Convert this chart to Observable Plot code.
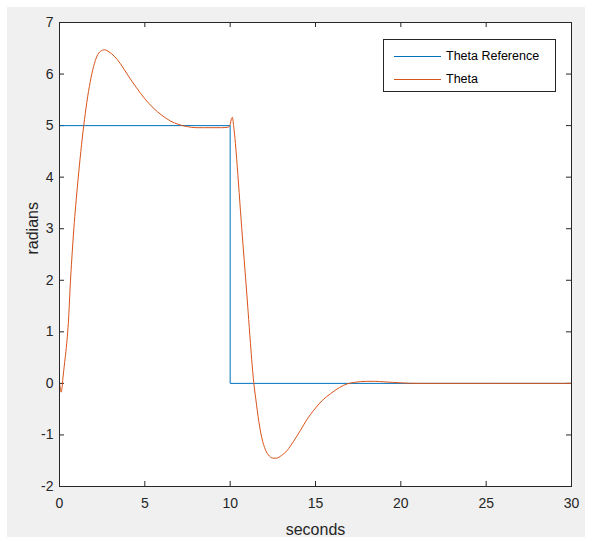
<!DOCTYPE html>
<html><head><meta charset="utf-8">
<script src="https://cdn.jsdelivr.net/npm/d3@7"></script>
<script src="https://cdn.jsdelivr.net/npm/@observablehq/plot@0.6"></script>
<style>
body{margin:0;background:#fff;}
#wrap{position:relative;width:591px;height:541px;}
#bg{position:absolute;left:7px;top:7px;width:578px;height:530px;background:#f0f0f0;}
#chart{position:absolute;left:0;top:0;}
#legend{position:absolute;left:383px;top:39px;width:173px;height:53px;background:#fff;border:1px solid #262626;box-sizing:border-box;font-family:"Liberation Sans",Arial,sans-serif;font-size:12.5px;color:#000;}
.row{position:absolute;left:0;height:16px;}
.sw{position:absolute;left:10px;top:8px;width:47px;height:0;border-top:1px solid;}
.lab{position:absolute;left:62px;top:0;white-space:nowrap;line-height:16px;}
</style></head>
<body>
<div id="wrap"><div id="bg"></div><div id="chart"></div>
<div id="legend">
 <div class="row" style="top:8px"><div class="sw" style="border-color:#0072BD"></div><div class="lab">Theta Reference</div></div>
 <div class="row" style="top:31px"><div class="sw" style="border-color:#D95319"></div><div class="lab">Theta</div></div>
</div></div>
<script>
const xTicks = [0,5,10,15,20,25,30];
const yTicks = [-2,-1,0,1,2,3,4,5,6,7];
const refT = [0,10,10,30];
const refY = [5,5,0,0];
const thetaT = [0,0.05,0.1,0.15,0.2,0.3,0.4,0.48,0.55,0.62,0.7,0.84,0.95,1.1,1.25,1.42,1.6,1.8,2.0,2.2,2.4,2.65,2.9,3.2,3.57,4.0,4.5,5.0,5.5,6.0,6.5,7.0,7.5,8.0,8.5,9.0,9.5,9.9,10.0,10.08,10.13,10.2,10.31,10.45,10.6,10.75,10.9,11.05,11.19,11.38,11.5,11.68,11.85,12.07,12.3,12.5,12.71,13.0,13.34,13.7,14.12,14.5,14.9,15.4,15.88,16.4,16.85,17.3,18.0,18.5,19.0,19.5,20,21,30];
const thetaY = [0,-0.1,-0.17,-0.08,0.1,0.4,0.7,1.0,1.35,1.85,2.3,3.0,3.45,4.0,4.5,5.0,5.45,5.85,6.15,6.35,6.44,6.47,6.43,6.35,6.2,5.98,5.74,5.52,5.34,5.2,5.09,5.02,4.98,4.96,4.96,4.96,4.96,4.97,5.02,5.14,5.16,5.0,4.65,4.05,3.36,2.7,2.06,1.4,0.77,0.02,-0.3,-0.74,-1.05,-1.29,-1.41,-1.45,-1.45,-1.40,-1.30,-1.13,-0.91,-0.7,-0.52,-0.33,-0.2,-0.08,-0.01,0.02,0.04,0.04,0.03,0.02,0.01,0,0];
const theta = thetaT.map((t,i)=>({t, y: thetaY[i]}));
const ref = refT.map((t,i)=>({t, y: refY[i]}));
const axisColor = "#262626";
const innerH = 541-22-55, innerW = 591-59-20;
const fmt = d => String(d);
const chart = Plot.plot({
  width: 591, height: 541,
  marginLeft: 59, marginTop: 22, marginRight: 20, marginBottom: 55,
  x: {domain: [0,30]},
  y: {domain: [-2,7]},
  style: {fontFamily: "'Liberation Sans', Arial, sans-serif", fontSize: "14px", color: axisColor, background: "transparent", overflow: "visible"},
  marks: [
    Plot.frame({fill: "white", stroke: null}),
    Plot.axisX(xTicks, {tickSize: 0, tickPadding: 12, tickFormat: fmt, label: null, fontSize: 14, fill: axisColor}),
    Plot.axisY(yTicks, {tickSize: 0, tickPadding: 6, tickFormat: fmt, label: null, fontSize: 14, fill: axisColor}),
    Plot.tickX(xTicks, {x: d=>d, insetTop: innerH-5, stroke: axisColor}),
    Plot.tickX(xTicks, {x: d=>d, insetBottom: innerH-5, stroke: axisColor}),
    Plot.tickY(yTicks, {y: d=>d, insetRight: innerW-5, stroke: axisColor}),
    Plot.tickY(yTicks, {y: d=>d, insetLeft: innerW-5, stroke: axisColor}),
    Plot.line(ref, {x: "t", y: "y", stroke: "#0072BD", strokeWidth: 1}),
    Plot.line(theta, {x: "t", y: "y", stroke: "#D95319", strokeWidth: 1, curve: "monotone-x"}),
    Plot.text(["seconds"], {frameAnchor: "bottom", dy: 48, fontSize: 16, fill: axisColor}),
    Plot.text(["radians"], {frameAnchor: "left", dx: -27, rotate: -90, fontSize: 16, fill: axisColor}),
    Plot.frame({stroke: axisColor, strokeWidth: 1})
  ]
});
document.getElementById("chart").appendChild(chart);
</script>
</body></html>
